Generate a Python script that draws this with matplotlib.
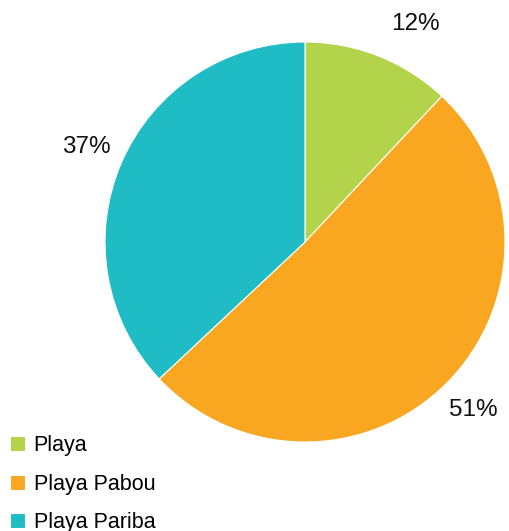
import matplotlib
matplotlib.use("Agg")
import matplotlib.pyplot as plt

labels = ["Playa", "Playa Pabou", "Playa Pariba"]
shares = [12, 51, 37]
colors = ["#b3d44a", "#f9a620", "#1fbcc6"]

plt.rcParams['font.family'] = ['Liberation Sans', 'DejaVu Sans']

fig = plt.figure(figsize=(5.09, 5.31), dpi=100)
# pie centre ~ (305, 242) px, radius ~200 px
ax = fig.add_axes([105 / 509, 89 / 531, 400 / 509, 400 / 531])
wedges, texts, autotexts = ax.pie(
    shares, colors=colors, startangle=90, counterclock=False,
    autopct='%d%%', pctdistance=1.19, radius=1,
    wedgeprops=dict(linewidth=0.8, edgecolor='white'),
    textprops=dict(fontsize=17.5, color='#111111'))
# excel pushes the small-slice label a bit to the right
autotexts[0].set_position((0.55, 1.09))
ax.set_xlim(-1, 1)
ax.set_ylim(-1, 1)
ax.set_aspect('equal')

fig.legend(wedges, labels, loc='upper left', bbox_to_anchor=(10 / 509, 1 - 435 / 531),
           frameon=False, fontsize=15.5, handlelength=0.7, handleheight=0.7,
           handletextpad=0.4, labelspacing=0.82, borderpad=0, borderaxespad=0)

fig.savefig("out.png", dpi=100)
